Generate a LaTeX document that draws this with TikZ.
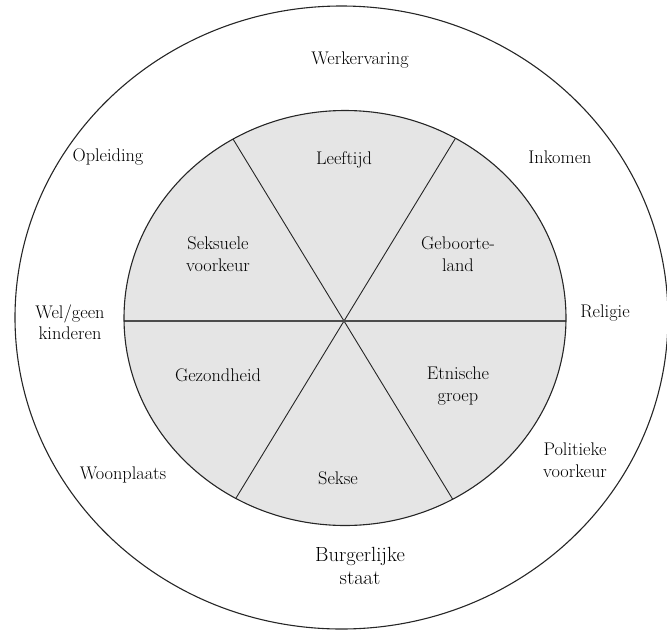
\documentclass[tikz,border=0pt]{standalone}
\usetikzlibrary{calc}
\definecolor{pie}{HTML}{E5E5E5}
\begin{document}
\begin{tikzpicture}[x=1pt,y=-1pt,
  lbl/.style={align=center,inner sep=0pt,font=\fontsize{18.3}{21.5}\selectfont},
  biglbl/.style={align=center,inner sep=0pt,font=\fontsize{20.5}{23}\selectfont},
  ring/.style={draw=black!85,line width=1.1pt},
  spoke/.style={draw=black!85,line width=0.9pt},
  axis/.style={draw=black!70,line width=1.8pt}]
\useasboundingbox (0,0) rectangle (667,630);
% outer ring
\draw[ring] (341.5,317.5) ellipse [x radius=326.5pt, y radius=311.5pt];
% inner disc
\coordinate (c) at (344,321);
\fill[pie] (345,318) ellipse [x radius=221pt, y radius=207.5pt];
\begin{scope}
  \clip (345,318) ellipse [x radius=221pt, y radius=207.5pt];
  \draw[spoke] ($(c)+(-111*2,-182*2)$) -- ($(c)+(111*2,182*2)$);
  \draw[spoke] ($(c)+(111*2,-182*2)$) -- ($(c)+(-111*2,182*2)$);
  \draw[axis] (100,321) -- (600,321);
\end{scope}
\draw[ring] (345,318) ellipse [x radius=221pt, y radius=207.5pt];
% inner labels
\node[lbl] (leeftijd) at (344,160) {Leeftijd};
\node[lbl] (seksvk) at (218,254) {Seksuele\\voorkeur};
\node[lbl] (geboorte) at (458,254) {Geboorte-\\land};
\node[lbl] (gezond) at (218,375) {Gezondheid};
\node[lbl] (etnisch) at (458,386) {Etnische\\groep};
\node[lbl] (sekse) at (338,478) {Sekse};
% outer labels
\node[lbl] (werk) at (360,60) {Werkervaring};
\node[lbl] (opleiding) at (108,157) {Opleiding};
\node[lbl] (inkomen) at (560,157) {Inkomen};
\node[lbl] (kinderen) at (70,322) {Wel/geen\\kinderen};
\node[lbl] (religie) at (605,313) {Religie};
\node[lbl] (woon) at (123,475) {Woonplaats};
\node[lbl] (politiek) at (575,460) {Politieke\\voorkeur};
\node[biglbl] (burger) at (360,566) {Burgerlijke\\staat};
\end{tikzpicture}
\end{document}
